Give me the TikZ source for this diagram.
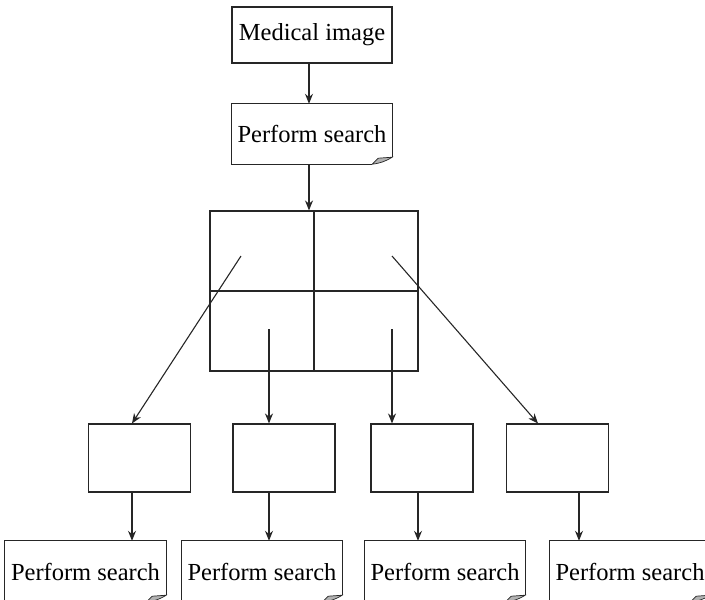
\documentclass[tikz,border=0pt]{standalone}
\usepackage{fontspec}
\setmainfont{Liberation Serif}
\usetikzlibrary{arrows.meta}
\tikzset{
  x=1pt, y={(0,-1pt)},
  line/.style={line width=1.1pt, draw=black!85},
  arr/.style={line, -{Stealth[length=10pt,width=8pt]}},
  plain/.style={line, rectangle, inner sep=0pt, minimum width=#1},
  plain/.default=102pt,
  labelbox/.style={rectangle, inner sep=0pt, minimum width=160pt, minimum height=60pt,
    font=\fontsize{24.5}{29}\selectfont},
}
% outline of a box whose lower right corner is a turned-up page fold
\newcommand\pagefold[1]{%
  \draw[line] ([xshift=-20pt]#1.south east) -- (#1.south west) -- (#1.north west)
    -- (#1.north east) -- ([yshift=7pt]#1.south east);
  \filldraw[line width=0.7pt, draw=black!85, fill=black!30]
    ([xshift=-20pt]#1.south east) -- ([xshift=-14pt,yshift=6pt]#1.south east)
    -- ([yshift=7pt]#1.south east) to[bend left=12] cycle;
}
\begin{document}
\begin{tikzpicture}
\clip (0,0) rectangle (705,600);

% top of the flow
\node[labelbox, draw=black!85, line width=1.1pt, minimum height=56pt] (med) at (312,35) {Medical image};
\node[labelbox] (top) at (312,134) {Perform search};
\pagefold{top}

% image split into four quadrants
\node[line, draw, rectangle, inner sep=0pt, minimum width=208pt, minimum height=160pt] (grid) at (314,291) {};
\draw[line] (grid.north) -- (grid.south);
\draw[line] (grid.west) -- (grid.east);
\coordinate (q1) at (241,256);
\coordinate (q2) at (392,256);
\coordinate (q3) at (269,329);
\coordinate (q4) at (392,329);

% one box per quadrant
\node[plain, draw, minimum height=68pt] (b1) at (139.5,458) {};
\node[plain, draw, minimum height=68pt] (b2) at (284,458) {};
\node[plain, draw, minimum height=68pt] (b3) at (422,458) {};
\node[plain, draw, minimum height=68pt] (b4) at (557.5,458) {};

% searches on each quadrant
\node[labelbox, minimum width=161pt, minimum height=61pt] (s1) at (85.5,571.5) {Perform search};
\node[labelbox, minimum height=61pt] (s2) at (262,571.5) {Perform search};
\node[labelbox, minimum height=61pt] (s3) at (445,571.5) {Perform search};
\node[labelbox, minimum height=61pt] (s4) at (630,571.5) {Perform search};
\pagefold{s1}
\pagefold{s2}
\pagefold{s3}
\pagefold{s4}

% connectors
\draw[arr] ([xshift=-3pt]med.south) -- ([xshift=-3pt]top.north);
\draw[arr] ([xshift=-3pt]top.south) -- ([xshift=-5pt]grid.north);
\draw[arr] (q1) -- (b1.north -| 132,0);
\draw[arr] (q3) -- (b2.north -| q3);
\draw[arr] (q4) -- (b3.north -| q4);
\draw[arr] (q2) -- (b4.north -| 538,0);
\draw[arr] (b1.south -| 132,0) -- (s1.north -| 132,0);
\draw[arr] (b2.south -| 269,0) -- (s2.north -| 269,0);
\draw[arr] (b3.south -| 418,0) -- (s3.north -| 418,0);
\draw[arr] (b4.south -| 579,0) -- (s4.north -| 579,0);
\end{tikzpicture}
\end{document}
